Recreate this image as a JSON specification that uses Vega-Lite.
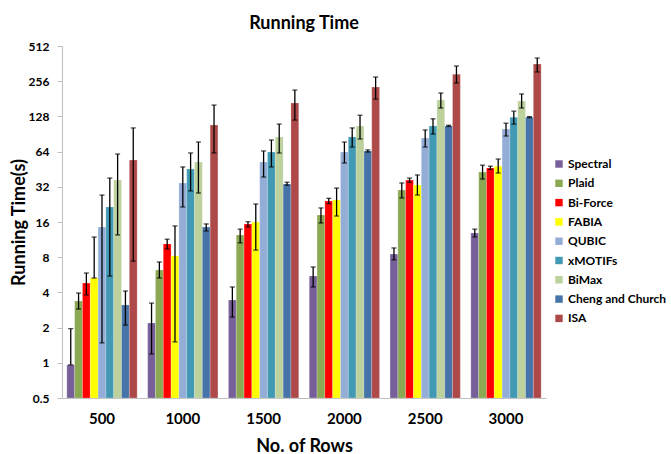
{
  "$schema": "https://vega.github.io/schema/vega-lite/v6.json",
  "width": 484,
  "height": 352,
  "autosize": {"type": "none"},
  "padding": {"left": 62, "top": 46, "right": 125, "bottom": 56},
  "background": "white",
  "title": {"text": "Running Time", "font": "Lato", "fontSize": 18, "fontWeight": "bold", "color": "#000000", "anchor": "middle", "offset": 7},
  "config": {"view": {"stroke": null}, "font": "Lato"},
  "data": {"values": [
    {"rows": "500", "method": "Spectral", "time": 0.96, "low": 0.96, "high": 1.96},
    {"rows": "500", "method": "Plaid", "time": 3.38, "low": 2.88, "high": 3.95},
    {"rows": "500", "method": "Bi-Force", "time": 4.81, "low": 3.8, "high": 5.86},
    {"rows": "500", "method": "FABIA", "time": 5.31, "low": 5.31, "high": 11.9},
    {"rows": "500", "method": "QUBIC", "time": 14.5, "low": 1.48, "high": 27.2},
    {"rows": "500", "method": "xMOTIFs", "time": 21.5, "low": 5.52, "high": 38},
    {"rows": "500", "method": "BiMax", "time": 36.6, "low": 12.4, "high": 61},
    {"rows": "500", "method": "Cheng and Church", "time": 3.12, "low": 2.1, "high": 4.11},
    {"rows": "500", "method": "ISA", "time": 54.2, "low": 7.4, "high": 102},
    {"rows": "1000", "method": "Spectral", "time": 2.19, "low": 1.19, "high": 3.24},
    {"rows": "1000", "method": "Plaid", "time": 6.22, "low": 5.31, "high": 7.28},
    {"rows": "1000", "method": "Bi-Force", "time": 10.4, "low": 9.4, "high": 11.4},
    {"rows": "1000", "method": "FABIA", "time": 8.2, "low": 1.51, "high": 14.8},
    {"rows": "1000", "method": "QUBIC", "time": 34.5, "low": 21.5, "high": 47.3},
    {"rows": "1000", "method": "xMOTIFs", "time": 45.4, "low": 29.5, "high": 62.3},
    {"rows": "1000", "method": "BiMax", "time": 52.2, "low": 28.3, "high": 77.3},
    {"rows": "1000", "method": "Cheng and Church", "time": 14.5, "low": 13.4, "high": 15.4},
    {"rows": "1000", "method": "ISA", "time": 108, "low": 62.3, "high": 160},
    {"rows": "1500", "method": "Spectral", "time": 3.44, "low": 2.46, "high": 4.45},
    {"rows": "1500", "method": "Plaid", "time": 12.4, "low": 10.6, "high": 13.9},
    {"rows": "1500", "method": "Bi-Force", "time": 15.4, "low": 14.5, "high": 16.1},
    {"rows": "1500", "method": "FABIA", "time": 16, "low": 9.2, "high": 22.8},
    {"rows": "1500", "method": "QUBIC", "time": 52.2, "low": 38.8, "high": 64.8},
    {"rows": "1500", "method": "xMOTIFs", "time": 63.4, "low": 47.3, "high": 80.4},
    {"rows": "1500", "method": "BiMax", "time": 85.3, "low": 62.3, "high": 110},
    {"rows": "1500", "method": "Cheng and Church", "time": 33.8, "low": 33, "high": 35},
    {"rows": "1500", "method": "ISA", "time": 167, "low": 119, "high": 215},
    {"rows": "2000", "method": "Spectral", "time": 5.52, "low": 4.45, "high": 6.6},
    {"rows": "2000", "method": "Plaid", "time": 18.4, "low": 15.7, "high": 21.1},
    {"rows": "2000", "method": "Bi-Force", "time": 24.2, "low": 23, "high": 25.5},
    {"rows": "2000", "method": "FABIA", "time": 24.7, "low": 18, "high": 31.2},
    {"rows": "2000", "method": "QUBIC", "time": 63.4, "low": 51.1, "high": 77.3},
    {"rows": "2000", "method": "xMOTIFs", "time": 85.3, "low": 70, "high": 102},
    {"rows": "2000", "method": "BiMax", "time": 106, "low": 82, "high": 131},
    {"rows": "2000", "method": "Cheng and Church", "time": 64.8, "low": 63.4, "high": 66.2},
    {"rows": "2000", "method": "ISA", "time": 228, "low": 180, "high": 278},
    {"rows": "2500", "method": "Spectral", "time": 8.5, "low": 7.6, "high": 9.6},
    {"rows": "2500", "method": "Plaid", "time": 30, "low": 25.7, "high": 34.5},
    {"rows": "2500", "method": "Bi-Force", "time": 36.6, "low": 35, "high": 38},
    {"rows": "2500", "method": "FABIA", "time": 33.1, "low": 27.2, "high": 40.4},
    {"rows": "2500", "method": "QUBIC", "time": 83.7, "low": 70, "high": 98},
    {"rows": "2500", "method": "xMOTIFs", "time": 106, "low": 90.5, "high": 122},
    {"rows": "2500", "method": "BiMax", "time": 177, "low": 151, "high": 203},
    {"rows": "2500", "method": "Cheng and Church", "time": 106, "low": 105, "high": 107.5},
    {"rows": "2500", "method": "ISA", "time": 294, "low": 247, "high": 345},
    {"rows": "3000", "method": "Spectral", "time": 12.9, "low": 11.9, "high": 13.9},
    {"rows": "3000", "method": "Plaid", "time": 42.8, "low": 37.3, "high": 49},
    {"rows": "3000", "method": "Bi-Force", "time": 46.3, "low": 45, "high": 48},
    {"rows": "3000", "method": "FABIA", "time": 48, "low": 42, "high": 55.3},
    {"rows": "3000", "method": "QUBIC", "time": 100, "low": 87, "high": 112},
    {"rows": "3000", "method": "xMOTIFs", "time": 126, "low": 110, "high": 142},
    {"rows": "3000", "method": "BiMax", "time": 173, "low": 151, "high": 199},
    {"rows": "3000", "method": "Cheng and Church", "time": 126, "low": 125, "high": 127.5},
    {"rows": "3000", "method": "ISA", "time": 359, "low": 307, "high": 404}
  ]},
  "encoding": {
    "x": {
      "field": "rows", "type": "ordinal", "sort": ["500", "1000", "1500", "2000", "2500", "3000"],
      "scale": {"paddingInner": 0.13, "paddingOuter": 0.06},
      "axis": {
        "title": "No. of Rows", "titleFont": "Lato", "titleFontSize": 18, "titleFontWeight": "bold", "titleColor": "#000000", "titlePadding": 11,
        "labelFont": "Lato", "labelFontSize": 15, "labelFontWeight": "bold", "labelColor": "#000000", "labelAngle": 0, "labelPadding": 13,
        "ticks": false, "domainColor": "#BFBFBF", "domainWidth": 1
      }
    },
    "xOffset": {"field": "method", "type": "nominal", "sort": ["Spectral", "Plaid", "Bi-Force", "FABIA", "QUBIC", "xMOTIFs", "BiMax", "Cheng and Church", "ISA"]}
  },
  "layer": [
    {
      "mark": {"type": "bar", "stroke": "#ffffff", "strokeOpacity": 0.35, "strokeWidth": 0.6},
      "encoding": {
        "y": {
          "field": "time", "type": "quantitative",
          "scale": {"type": "log", "base": 2, "domain": [0.5, 512], "nice": false},
          "axis": {
            "title": "Running Time(s)", "titleFont": "Lato", "titleFontSize": 18, "titleFontWeight": "bold", "titleColor": "#000000", "titlePadding": 0,
            "values": [0.5, 1, 2, 4, 8, 16, 32, 64, 128, 256, 512], "format": "~g",
            "labelFont": "Lato", "labelFontSize": 12, "labelFontWeight": "bold", "labelColor": "#000000", "labelPadding": 8,
            "grid": false, "tickColor": "#BFBFBF", "tickSize": 5, "domainColor": "#BFBFBF"
          }
        },
        "y2": {"datum": 0.5},
        "color": {
          "field": "method", "type": "nominal",
          "scale": {
            "domain": ["Spectral", "Plaid", "Bi-Force", "FABIA", "QUBIC", "xMOTIFs", "BiMax", "Cheng and Church", "ISA"],
            "range": ["#77609A", "#8BA853", "#FF0000", "#FFFF00", "#94ADD6", "#4299B3", "#BCD19C", "#4673A8", "#AD4A49"]
          },
          "legend": {
            "title": null, "orient": "none", "legendX": 491, "legendY": 112,
            "symbolType": "square", "symbolSize": 55, "symbolStrokeWidth": 0,
            "labelFont": "Lato", "labelFontSize": 12, "labelFontWeight": "bold", "labelColor": "#000000",
            "rowPadding": 7.3, "labelOffset": 3, "labelLimit": 200
          }
        }
      }
    },
    {
      "mark": {"type": "rule", "color": "#000000", "strokeWidth": 1.3},
      "encoding": {
        "y": {"field": "low", "type": "quantitative"},
        "y2": {"field": "high"}
      }
    },
    {
      "mark": {"type": "tick", "color": "#000000", "size": 5, "thickness": 1.3},
      "encoding": {"y": {"field": "high", "type": "quantitative"}}
    },
    {
      "mark": {"type": "tick", "color": "#000000", "size": 5, "thickness": 1.3},
      "encoding": {"y": {"field": "low", "type": "quantitative"}}
    }
  ]
}
